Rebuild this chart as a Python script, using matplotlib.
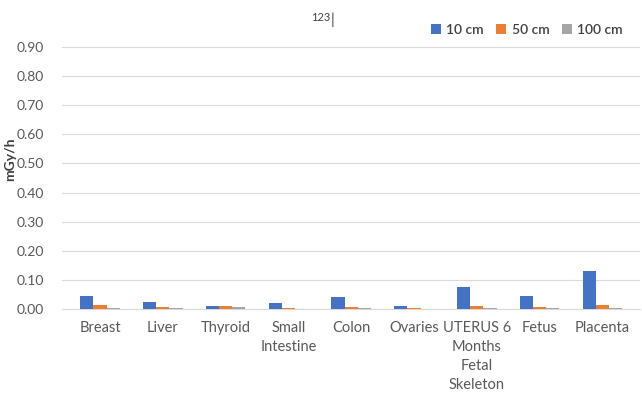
import matplotlib.pyplot as plt
import numpy as np

plt.rcParams['font.family'] = ['Lato', 'DejaVu Sans']

categories = ['Breast', 'Liver', 'Thyroid', 'Small\nIntestine', 'Colon', 'Ovaries',
              'UTERUS 6\nMonths\nFetal\nSkeleton', 'Fetus', 'Placenta']
series_names = ['10 cm', '50 cm', '100 cm']
vals_10 = [0.044, 0.022, 0.010, 0.020, 0.042, 0.011, 0.074, 0.044, 0.131]
vals_50 = [0.013, 0.007, 0.010, 0.004, 0.008, 0.003, 0.010, 0.006, 0.014]
vals_100 = [0.003, 0.002, 0.006, 0.001, 0.002, 0.001, 0.002, 0.002, 0.003]
colors = ['#4472C4', '#ED7D31', '#A5A5A5']
yticks = [0.0, 0.1, 0.2, 0.3, 0.4, 0.5, 0.6, 0.7, 0.8, 0.9]

fig = plt.figure(figsize=(6.42, 3.93), dpi=100)
ax = fig.add_axes([0.097, 0.214, 0.9, 0.666])

x = np.arange(len(categories))
w = 0.21
for i, (vals, name) in enumerate(zip([vals_10, vals_50, vals_100], series_names)):
    ax.bar(x + (i - 1) * w, vals, w, color=colors[i], label=name, zorder=3)

ax.set_ylim(0, 0.9)
ax.set_xlim(-0.6, len(categories) - 0.4)
ax.set_yticks(yticks)
ax.set_yticklabels(['%.2f' % t for t in yticks])
ax.set_xticks(x)
ax.set_xticklabels(categories, linespacing=1.45)
ax.grid(axis='y', color='#D9D9D9', linewidth=0.8, zorder=0)
for s in ['top', 'right', 'left']:
    ax.spines[s].set_visible(False)
ax.spines['bottom'].set_color('#D9D9D9')
ax.tick_params(axis='both', length=0, colors='#595959', labelsize=10.5)
ax.tick_params(axis='x', pad=9)
ax.tick_params(axis='y', pad=13, labelsize=10)
ax.set_ylabel('mGy/h', fontsize=10, fontweight='bold', color='#404040')
ax.yaxis.set_label_coords(-0.08, 0.573)

fig.text(0.5, 0.955, '123', fontsize=8, color='#404040', ha='center', va='center')
fig.text(0.518, 0.95, '|', fontsize=11, color='#404040', ha='center', va='center')

ax.legend(loc='center right', bbox_to_anchor=(0.97, 1.066), ncol=3, frameon=False,
          prop={'size': 10, 'weight': 'semibold'}, handlelength=0.7, handleheight=0.7,
          handletextpad=0.4, columnspacing=0.9, labelcolor='#404040',
          borderaxespad=0, borderpad=0)

fig.savefig('out.png', dpi=100)
